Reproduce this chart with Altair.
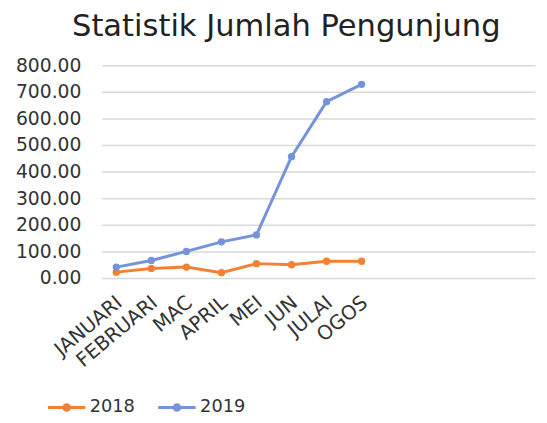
import json
import altair as alt
import pandas as pd

months = ["JANUARI", "FEBRUARI", "MAC", "APRIL", "MEI", "JUN", "JULAI", "OGOS"]
v2018 = [22, 36, 41, 20, 54, 50, 63, 63]
v2019 = [41, 66, 100, 136, 162, 456, 663, 728]
years = ["2018", "2019"]
colors = ["#F28135", "#7494DA"]

rows = []
for i, m in enumerate(months):
    rows.append({"idx": i, "bulan": m, "tahun": "2018", "nilai": v2018[i]})
    rows.append({"idx": i, "bulan": m, "tahun": "2019", "nilai": v2019[i]})
df = pd.DataFrame(rows)

FONT = "DejaVu Sans"
label_expr = json.dumps(months) + "[datum.value]"

legend_path = ("M-2,0L2,0 M-0.3,0A0.3,0.3 0 1,0 0.3,0"
               "A0.3,0.3 0 1,0 -0.3,0")

x_enc = alt.X("idx:Q",
              scale=alt.Scale(domain=[-0.42, 11.95], nice=False, zero=False),
              axis=alt.Axis(values=list(range(len(months))), labelExpr=label_expr,
                            labelAngle=-40, labelAlign="right", labelBaseline="middle",
                            labelFontSize=20, labelFont=FONT, labelColor="#333333",
                            labelPadding=22, labelOffset=3, domain=False, ticks=False,
                            grid=False, title=None, labelOverlap=False))
y_enc = alt.Y("nilai:Q",
              scale=alt.Scale(domain=[0, 800], nice=False),
              axis=alt.Axis(values=list(range(0, 801, 100)), format=".2f",
                            labelFontSize=19, labelFont=FONT, labelColor="#333333",
                            labelPadding=21, domain=False, ticks=False,
                            gridColor="#d9d9d9", gridWidth=1.5, title=None))
color_scale = alt.Scale(domain=years, range=colors)

lines = alt.Chart(df).mark_line(strokeWidth=3).encode(
    x=x_enc, y=y_enc,
    color=alt.Color("tahun:N", scale=color_scale,
                    legend=alt.Legend(orient="none", legendX=-46.5, legendY=336.5,
                                      direction="horizontal", title=None,
                                      labelFontSize=18, labelFont=FONT,
                                      labelColor="#333333", symbolType=legend_path,
                                      symbolSize=361, symbolStrokeWidth=3,
                                      columnPadding=17, labelOffset=12.5,
                                      padding=0)),
)
points = alt.Chart(df).mark_circle(size=55, opacity=1).encode(
    x=x_enc, y=y_enc,
    color=alt.Color("tahun:N", scale=color_scale, legend=None),
)

chart = alt.layer(lines, points).properties(
    width=440,
    height=216,
    title=alt.TitleParams("Statistik Jumlah Pengunjung", anchor="start", frame="group",
                          dx=-30, dy=10, fontSize=31, font=FONT, fontWeight="normal",
                          color="#222222", baseline="alphabetic", offset=0),
    autosize=alt.AutoSizeParams(type="none"),
    padding={"left": 95, "top": 55, "right": 4, "bottom": 136},
).configure_view(stroke=None)

chart.save("out.html", embed_options={"renderer": "svg", "actions": False})
